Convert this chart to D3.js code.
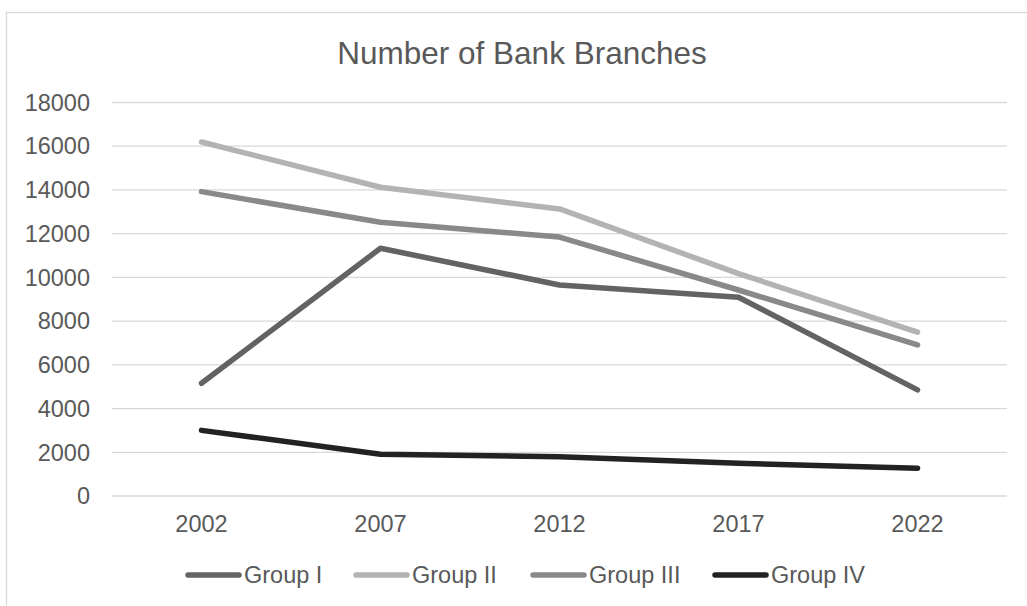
<!DOCTYPE html>
<html>
<head>
<meta charset="utf-8">
<script src="https://cdn.jsdelivr.net/npm/d3@7"></script>
<style>
  html, body { margin: 0; padding: 0; background: #fff; }
  svg { display: block; font-family: "Liberation Sans", Arial, sans-serif; }
</style>
</head>
<body>
<svg id="chart" width="1027" height="606"></svg>
<script>
const years = ["2002", "2007", "2012", "2017", "2022"];
const groupI   = [5135, 11310, 9630, 9070, 4830];
const groupII  = [16170, 14100, 13110, 10150, 7470];
const groupIII = [13900, 12500, 11820, 9400, 6890];
const groupIV  = [2980, 1890, 1770, 1470, 1250];
const seriesNames = ["Group I", "Group II", "Group III", "Group IV"];
const yTicks = [0, 2000, 4000, 6000, 8000, 10000, 12000, 14000, 16000, 18000];

const seriesValues = [groupI, groupII, groupIII, groupIV];
const colors = ["#636363", "#b3b3b3", "#898989", "#222222"];

const svg = d3.select("#chart");
const W = 1027, H = 606;
const textColor = "#595959";

// outer border
svg.append("rect")
  .attr("x", 6.5).attr("y", 12.5)
  .attr("width", W + 20).attr("height", H + 20)
  .attr("fill", "#fff")
  .attr("stroke", "#d9d9d9").attr("stroke-width", 1.3);

const plot = { left: 112, right: 1007, top: 102, bottom: 495.5 };

const x = d3.scaleBand().domain(years).range([plot.left, plot.right]).padding(0);
const y = d3.scaleLinear().domain([0, 18000]).range([plot.bottom, plot.top]);

// title
svg.append("text")
  .attr("x", 522).attr("y", 64)
  .attr("text-anchor", "middle")
  .attr("fill", textColor)
  .style("font-size", "31.5px")
  .text("Number of Bank Branches");

// gridlines
const yAxis = d3.axisLeft(y).tickValues(yTicks).tickSize(-(plot.right - plot.left)).tickPadding(22).tickFormat(d3.format("d"));
const gy = svg.append("g").attr("transform", `translate(${plot.left},0)`).call(yAxis);
gy.select(".domain").remove();
gy.selectAll(".tick line").attr("stroke", "#d9d9d9").attr("stroke-width", 1.3);
gy.selectAll(".tick text").attr("fill", textColor).style("font-size", "23.5px").attr("dy", "0.35em");

// x axis labels
const xAxis = d3.axisBottom(x).tickSize(0).tickPadding(20);
const gx = svg.append("g").attr("transform", `translate(0,${plot.bottom})`).call(xAxis);
gx.select(".domain").remove();
gx.selectAll(".tick text").attr("fill", textColor).style("font-size", "23.5px");

// lines
const line = d3.line()
  .x((d, i) => x(years[i]) + x.bandwidth() / 2)
  .y(d => y(d));

seriesValues.forEach((vals, k) => {
  svg.append("path")
    .datum(vals)
    .attr("d", line)
    .attr("fill", "none")
    .attr("stroke", colors[k])
    .attr("stroke-width", 5.5)
    .attr("stroke-linecap", "round")
    .attr("stroke-linejoin", "round");
});

// legend
const legendX = [186, 354, 531, 713];
const legendY = 575;
seriesNames.forEach((name, k) => {
  const g = svg.append("g");
  g.append("line")
    .attr("x1", legendX[k] + 2).attr("x2", legendX[k] + 53)
    .attr("y1", legendY).attr("y2", legendY)
    .attr("stroke", colors[k]).attr("stroke-width", 5.5)
    .attr("stroke-linecap", "round");
  g.append("text")
    .attr("x", legendX[k] + 58).attr("y", legendY)
    .attr("dy", "0.35em")
    .attr("fill", textColor)
    .style("font-size", "23.5px")
    .text(name);
});
</script>
</body>
</html>
